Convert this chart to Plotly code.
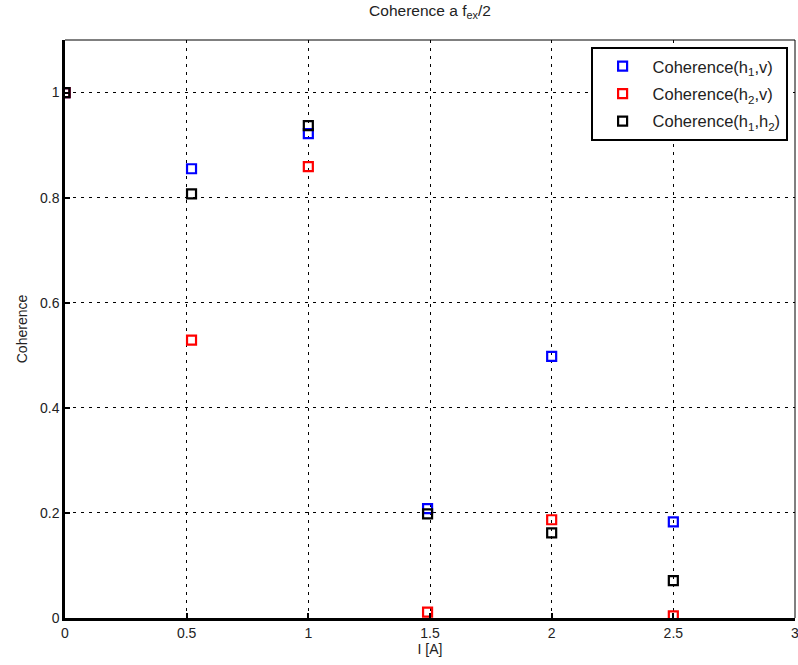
import plotly.graph_objects as go

# Data
current = [0.0, 0.52, 1.0, 1.49, 2.0, 2.5]
coh_h1_v = [1.0, 0.855, 0.922, 0.208, 0.498, 0.183]
coh_h2_v = [1.0, 0.529, 0.859, 0.011, 0.187, 0.004]
coh_h1_h2 = [1.0, 0.807, 0.937, 0.198, 0.162, 0.071]

series_names = ["Coherence(h<sub>1</sub>,v)", "Coherence(h<sub>2</sub>,v)", "Coherence(h<sub>1</sub>,h<sub>2</sub>)"]
series_values = [coh_h1_v, coh_h2_v, coh_h1_h2]
series_colors = ["#0000ff", "#ff0000", "#000000"]

x_ticks = [0, 0.5, 1, 1.5, 2, 2.5, 3]
x_tick_labels = ["0", "0.5", "1", "1.5", "2", "2.5", "3"]
y_ticks = [0, 0.2, 0.4, 0.6, 0.8, 1.0]
y_tick_labels = ["0", "0.2", "0.4", "0.6", "0.8", "1"]

font_family = "Liberation Sans, Arial, sans-serif"

fig = go.Figure()
for i, (name, vals, col) in enumerate(zip(series_names, series_values, series_colors)):
    fig.add_trace(go.Scatter(
        x=current, y=vals, mode="markers", name=name,
        legendgroup=f"g{i}",
        marker=dict(symbol="square-open", size=9, color=col, line=dict(width=2.2, color=col)),
    ))

axis_common = dict(
    showline=True, linecolor="black", linewidth=2.5, mirror=False,
    ticks="inside", ticklen=5, tickcolor="black", tickwidth=1.5,
    showgrid=True, gridcolor="black", gridwidth=1, griddash="3px,5px",
    zeroline=False, tickfont=dict(size=14, color="#222", family=font_family),
    automargin=False, ticklabeloverflow="allow",
)

fig.update_layout(
    width=798, height=665,
    margin=dict(l=65, r=3, t=40, b=47),
    paper_bgcolor="white", plot_bgcolor="white",
    font=dict(family=font_family, size=12, color="black"),
    title=dict(text="Coherence a f<sub>ex</sub>/2", xref="paper", x=0.5, xanchor="center",
               yref="container", y=0.992, yanchor="top",
               font=dict(size=15.5, color="#222", family=font_family)),
    xaxis=dict(range=[0, 3], tickvals=x_ticks, ticktext=x_tick_labels,
               title=dict(text="I [A]", standoff=2, font=dict(size=14, color="#222")), **axis_common),
    yaxis=dict(range=[0, 1.1], tickvals=y_ticks, ticktext=y_tick_labels,
               title=dict(text="Coherence", standoff=10, font=dict(size=14, color="#222")), **axis_common),
    showlegend=True,
    legend=dict(x=0.72, y=0.988, xanchor="left", yanchor="top",
                bgcolor="white", bordercolor="black", borderwidth=2,
                font=dict(size=16.5, color="#222", family=font_family),
                tracegroupgap=3, itemwidth=50),
    shapes=[
        dict(type="line", xref="paper", yref="paper", x0=0, x1=1, y0=1, y1=1,
             line=dict(color="black", width=1)),
        dict(type="line", xref="paper", yref="paper", x0=1, x1=1, y0=0, y1=1,
             line=dict(color="black", width=1)),
    ],
)

fig.write_html("out.html")
